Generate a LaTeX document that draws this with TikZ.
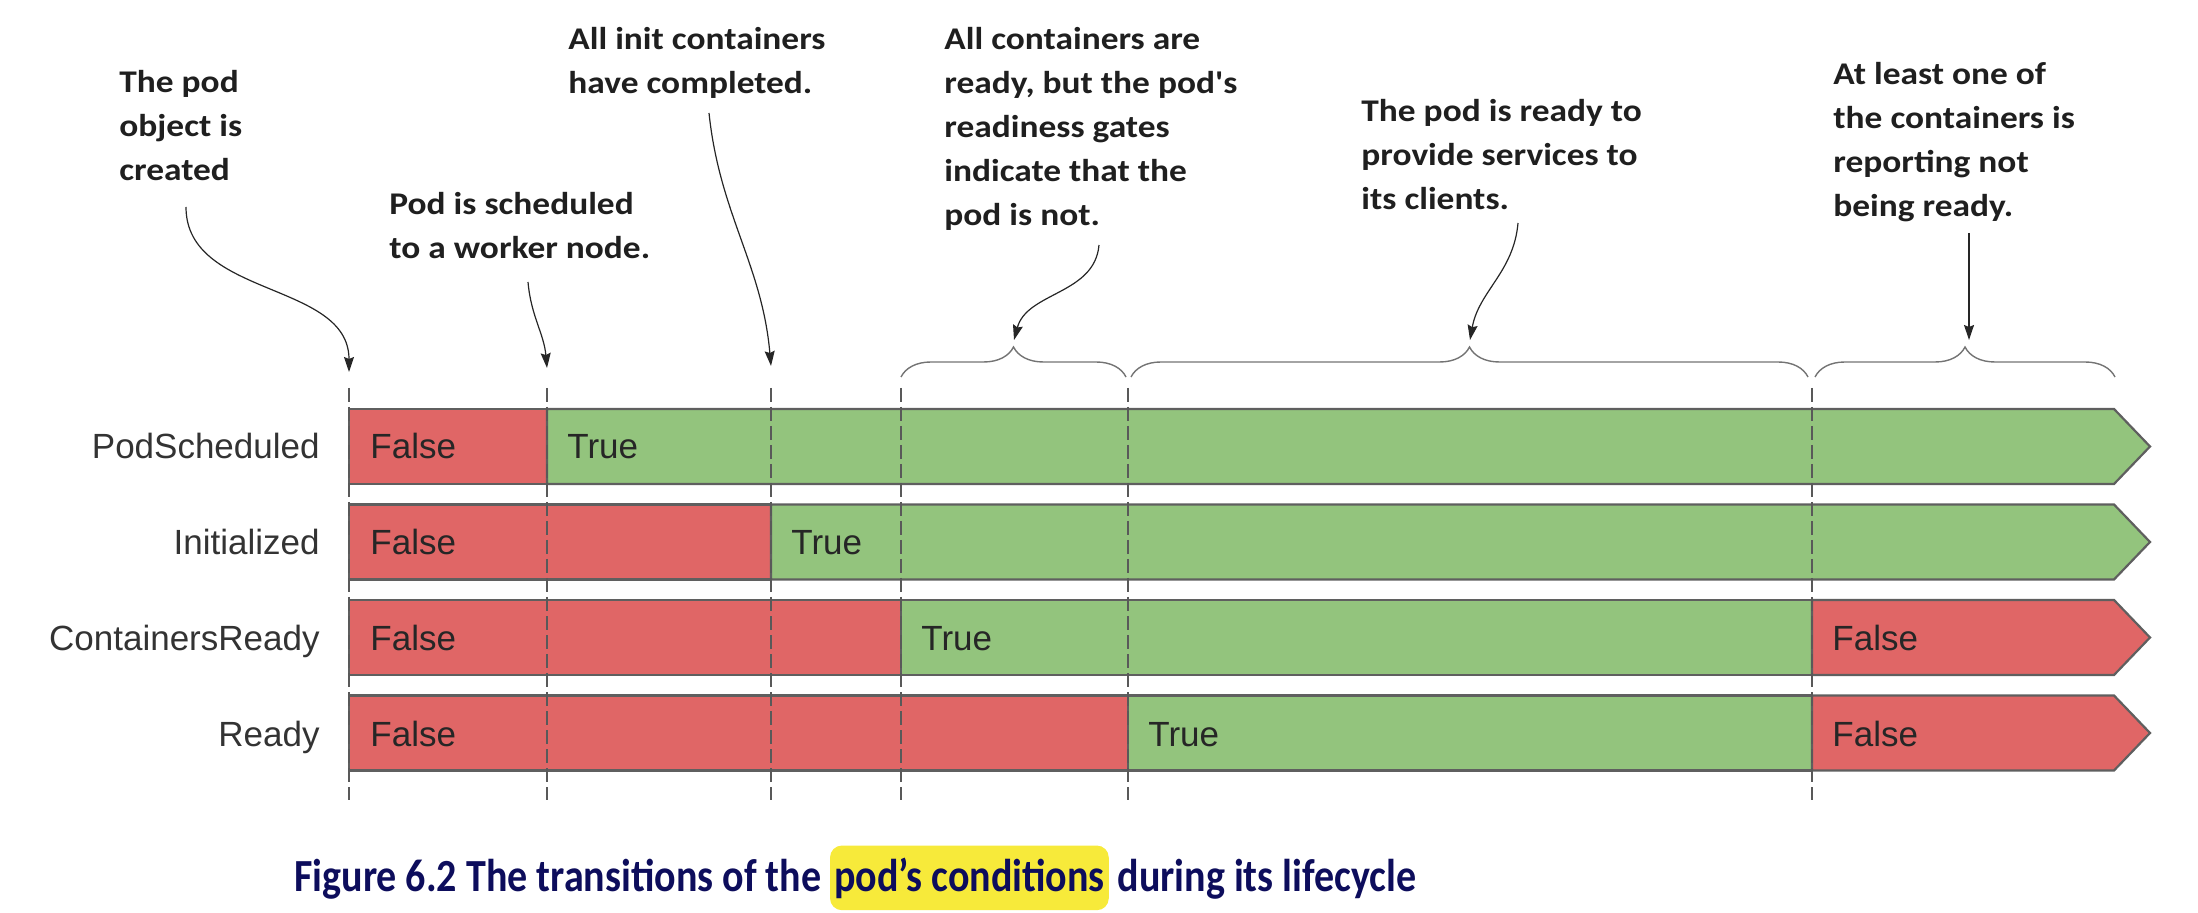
\documentclass[tikz,border=0pt]{standalone}
\usepackage{fontspec}
\setmainfont{Liberation Sans}
\newfontfamily\notefont[FakeStretch=1.12]{Carlito}
\newfontfamily\capfont[FakeStretch=0.87]{Carlito}
\usetikzlibrary{arrows.meta}
\usetikzlibrary{decorations.pathreplacing}
\usetikzlibrary{positioning}

\definecolor{falsered}{HTML}{E06666}
\definecolor{truegreen}{HTML}{93C47D}
\definecolor{barline}{HTML}{5F5F5F}
\definecolor{capblue}{HTML}{0D0D5C}
\definecolor{marker}{HTML}{F7EA3A}

\begin{document}
\begin{tikzpicture}[x=0.5pt,y=0.5pt,yscale=-1,
  falsebar/.style={draw=barline,line width=1.1pt,fill=falsered},
  truebar/.style={draw=barline,line width=1.1pt,fill=truegreen},
  state/.style={anchor=base west,inner sep=0pt,font=\fontsize{17.5}{20}\selectfont,text=black!85},
  rowlabel/.style={anchor=base east,inner sep=0pt,font=\fontsize{17.5}{20}\selectfont,text=black!80},
  note/.style={anchor=base west,align=left,inner sep=0pt,font=\notefont\bfseries\fontsize{15.8}{22}\selectfont,text=black!88},
  pointer/.style={draw=black!85,line width=0.6pt,-{Stealth[length=7.5pt,width=5pt,inset=1pt]}},
  bracket/.style={draw=black!55,line width=0.7pt,decorate,decoration={brace,amplitude=15pt}},
  tick/.style={draw=black!65,line width=0.6pt,dash pattern=on 7pt off 2.5pt},
  caption/.style={anchor=base west,inner sep=0pt,font=\capfont\bfseries\fontsize{23}{26}\selectfont,text=capblue}]
\useasboundingbox (0,0) rectangle (2198,913);

%Bars: PodScheduled
\draw[falsebar] (349,409) rectangle (547,484);
\draw[truebar] (547,409) -- (2114,409) -- (2150,446.5) -- (2114,484) -- (547,484) -- cycle;
%Bars: Initialized
\draw[falsebar] (349,504.5) rectangle (771,579.5);
\draw[truebar] (771,504.5) -- (2114,504.5) -- (2150,542) -- (2114,579.5) -- (771,579.5) -- cycle;
%Bars: ContainersReady
\draw[falsebar] (349,600) rectangle (901,675);
\draw[truebar] (901,600) rectangle (1812,675);
\draw[falsebar] (1812,600) -- (2114,600) -- (2150,637.5) -- (2114,675) -- (1812,675) -- cycle;
%Bars: Ready
\draw[falsebar] (349,695.5) rectangle (1128,770.5);
\draw[truebar] (1128,695.5) rectangle (1812,770.5);
\draw[falsebar] (1812,695.5) -- (2114,695.5) -- (2150,733) -- (2114,770.5) -- (1812,770.5) -- cycle;

%Dashed time marks
\foreach \x/\n in {349/a,547/b,771/c,901/d,1128/e,1812/f}{
  \coordinate (top\n) at (\x,388);
  \draw[tick] (top\n) -- (\x,800);
}

% Row labels
\node[rowlabel] (lsched) at (320,459) {PodScheduled};
\node[rowlabel] (linit) at (320,555) {Initialized};
\node[rowlabel] (lcont) at (320,650) {ContainersReady};
\node[rowlabel] (lready) at (320,746) {Ready};

% States
\node[state] (sched1) at (370,459) {False};
\node[state] (sched2) at (567,459) {True};
\node[state] (init1) at (370,555) {False};
\node[state] (init2) at (791,555) {True};
\node[state] (cont1) at (370,650) {False};
\node[state] (cont2) at (921,650) {True};
\node[state] (cont3) at (1832,650) {False};
\node[state] (ready1) at (370,746) {False};
\node[state] (ready2) at (1148,746) {True};
\node[state] (ready3) at (1832,746) {False};

%Braces
\draw[bracket] (901,377) -- (1126,377);
\draw[bracket] (1131,377) -- (1808,377);
\draw[bracket] (1815,377) -- (2115,377);
\coordinate (brnot) at (1014,340);
\coordinate (brok) at (1470,340);
\coordinate (brlost) at (1966,340);

% Text Node (base = last line)
\node[note] (created) at (119,181) {The pod\\object is\\created};
\node[note] (scheduled) at (389,259) {Pod is scheduled\\to a worker node.};
\node[note] (initdone) at (568,94) {All init containers\\have completed.};
\node[note] (gates) at (944,226) {All containers are\\ready, but the pod's\\readiness gates\\indicate that the\\pod is not.};
\node[note] (serving) at (1361,210) {The pod is ready to\\provide services to\\its clients.};
\node[note] (notready) at (1833,217) {At least one of\\the containers is\\reporting not\\being ready.};

%Pointers
\coordinate (s1) at (186,207);
\coordinate (s2) at (528,282);
\coordinate (s3) at (709,113);
\coordinate (s4) at (1099,245);
\coordinate (s5) at (1518,223);
\coordinate (s6) at (1969,233);
\draw[pointer] (s1) to[out=90,in=-90] ([yshift=-8]topa);
\draw[pointer] (s2) to[out=85,in=-95] ([yshift=-10]topb);
\draw[pointer] (s3) to[out=84,in=-95] ([yshift=-11]topc);
\draw[pointer] (s4) to[out=95,in=-75] (brnot);
\draw[pointer] (s5) to[out=95,in=-80] (brok);
\draw[pointer] (s6) -- (s6 |- brlost);

% Caption
\node[caption] (cap1) at (294,891) {Figure 6.2 The transitions of the};
\node[caption,fill=marker,rounded corners=6pt,inner xsep=2pt,inner ysep=6pt,anchor=base west] (cap2) at ([xshift=4]cap1.base east) {pod’s conditions};
\node[caption] (cap3) at ([xshift=4]cap2.base east) {during its lifecycle};

\end{tikzpicture}
\end{document}
